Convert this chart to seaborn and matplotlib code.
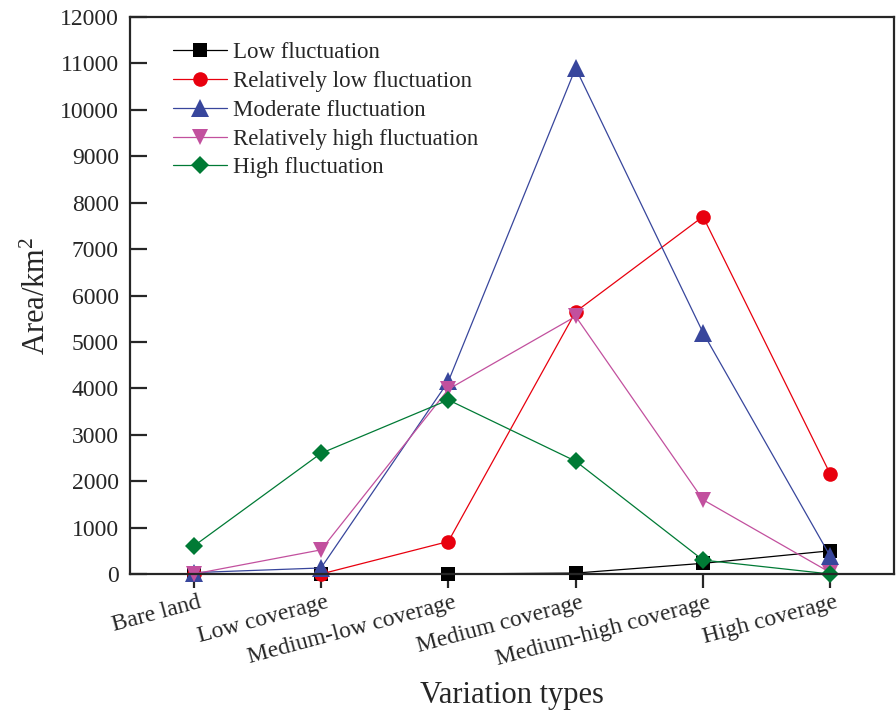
import matplotlib
matplotlib.use("Agg")
import matplotlib.pyplot as plt
import matplotlib.transforms as mtransforms
import pandas as pd
import seaborn as sns

# Coverage classes on the x axis
categories = ["Bare land", "Low coverage", "Medium-low coverage",
              "Medium coverage", "Medium-high coverage", "High coverage"]

# Area (km^2) of each fluctuation level per coverage class
low_fluct = [0, 0, 0, 20, 230, 500]
rel_low_fluct = [0, 0, 700, 5650, 7700, 2150]
moderate_fluct = [30, 130, 4150, 10900, 5200, 380]
rel_high_fluct = [0, 520, 3980, 5550, 1600, 30]
high_fluct = [600, 2600, 3750, 2430, 300, 0]

series_names = ["Low fluctuation", "Relatively low fluctuation",
                "Moderate fluctuation", "Relatively high fluctuation",
                "High fluctuation"]
series_values = [low_fluct, rel_low_fluct, moderate_fluct,
                 rel_high_fluct, high_fluct]

colors = ["#000000", "#E8000E", "#38469C", "#C2509E", "#007A35"]
markers = ["s", "o", "^", "v", "D"]
msizes = [9.5, 10.5, 12.5, 11.5, 9.5]

rows = []
for name, vals in zip(series_names, series_values):
    for i, (cat, v) in enumerate(zip(categories, vals)):
        rows.append({"idx": i, "coverage": cat, "area": v, "series": name})
df = pd.DataFrame(rows)

sns.set_style("ticks")
plt.rcParams["font.family"] = ["Liberation Serif", "DejaVu Serif"]
plt.rcParams["mathtext.fontset"] = "custom"
plt.rcParams["mathtext.rm"] = "Liberation Serif"
plt.rcParams["mathtext.it"] = "Liberation Serif:italic"

fig = plt.figure(figsize=(8.96, 7.10), dpi=100)
ax = fig.add_axes([130 / 896, 1 - 574 / 710, 764 / 896, 557 / 710])

for name, col, mk, ms in zip(series_names, colors, markers, msizes):
    sub = df[df["series"] == name]
    sns.lineplot(data=sub, x="idx", y="area", ax=ax, color=col,
                 marker=mk, markersize=ms, markeredgewidth=0,
                 linewidth=0.9, label=name, clip_on=False)

ax.set_xlim(-0.5, 5.5)
ax.set_ylim(0, 12000)
ax.set_yticks(range(0, 12001, 1000))
ax.set_xticks(range(len(categories)))

ax.tick_params(axis="y", direction="in", length=12, width=1.6,
               labelsize=17, pad=8)
ax.tick_params(axis="x", direction="out", length=10, width=1.6,
               labelsize=17, pad=3)
for sp in ax.spines.values():
    sp.set_linewidth(1.6)
    sp.set_visible(True)

ax.set_xticklabels(categories, rotation=15, ha="right", va="top",
                   rotation_mode="default")
offset = mtransforms.ScaledTranslation(10 / 100, 0, fig.dpi_scale_trans)
for tick in ax.xaxis.get_major_ticks():
    tick.label1.set_transform(tick.label1.get_transform() + offset)

ax.set_xlabel("Variation types", fontsize=22, labelpad=8)
ax.set_ylabel("Area/km$^2$", fontsize=22, labelpad=6)

leg = ax.legend(loc="upper left", bbox_to_anchor=(0.056, 0.955),
                frameon=False, fontsize=16.5, handlelength=2.35,
                handletextpad=0.28, labelspacing=0.34, borderpad=0,
                borderaxespad=0)

fig.savefig("out.png", dpi=100)
